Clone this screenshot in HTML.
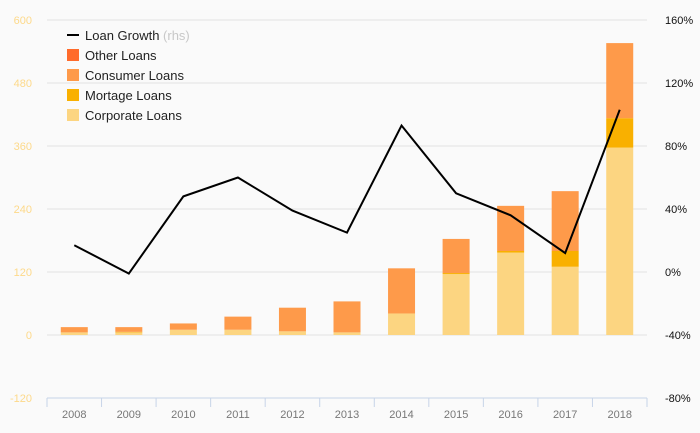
<!DOCTYPE html>
<html><head><meta charset="utf-8"><style>
html,body{margin:0;padding:0;background:#fafafa;}
svg{display:block;font-family:"Liberation Sans",sans-serif;}
</style></head><body>
<svg id="chart" width="700" height="433" viewBox="0 0 700 433">
<rect width="700" height="433" fill="#fafafa"/>
<g id="grid"></g><g id="bars"></g><g id="line"></g><g id="axes"></g>
<g id="legend" font-size="13" fill="#222">
  <line x1="67" y1="35" x2="79" y2="35" stroke="#000" stroke-width="2"/>
  <text x="85" y="40">Loan Growth <tspan fill="#c8c8c8">(rhs)</tspan></text>
  <rect x="67" y="49" width="12" height="12" fill="#ff6b2b"/>
  <text x="85" y="60">Other Loans</text>
  <rect x="67" y="69" width="12" height="12" fill="#fe9a4a"/>
  <text x="85" y="80">Consumer Loans</text>
  <rect x="67" y="89" width="12" height="12" fill="#f9b000"/>
  <text x="85" y="100">Mortage Loans</text>
  <rect x="67" y="109" width="12" height="12" fill="#fcd581"/>
  <text x="85" y="120">Corporate Loans</text>
</g>
</svg>
<script>
const years = ["2008","2009","2010","2011","2012","2013","2014","2015","2016","2017","2018"];
const corporate = [5,5,10,10,7,5,41,116,157,130,357];
const mortage = [0,1,0,0,0,0,0,2,3,30,56];
const consumer = [10,9,12,25,45,59,86,65,86,114,143];
const other = [0,0,0,0,0,0,0,0,0,0,0];
const growth = [17,-1,48,60,39,25,93,50,36,12,103];
const leftTicks = [-120,0,120,240,360,480,600];
const rightTicks = ["-80%","-40%","0%","40%","80%","120%","160%"];
const rightVals = [-80,-40,0,40,80,120,160];

const NS="http://www.w3.org/2000/svg";
const X0=47,X1=647,band=(X1-X0)/years.length,bw=27;
const yL=v=>335-v*0.525;
const yR=v=>272-v*63/40;
const xc=i=>X0+band*(i+0.5);
function mk(tag,attrs,parent){const e=document.createElementNS(NS,tag);for(const k in attrs)e.setAttribute(k,attrs[k]);parent.appendChild(e);return e;}
const grid=document.getElementById('grid'),bars=document.getElementById('bars'),line=document.getElementById('line'),axes=document.getElementById('axes');
leftTicks.forEach((v,i)=>{
  if(v>-120){const g=mk('line',{x1:X0,x2:X1,y1:yL(v),y2:yL(v),stroke:'#e3e3e3','stroke-width':1},grid);
  
  }
  const t=mk('text',{x:32,y:yL(v)+4,'text-anchor':'end','font-size':11,fill:'#fdd98a'},axes);
  t.textContent=v;
  
  
});
rightVals.forEach((v,i)=>{
  const t=mk('text',{x:665,y:yR(v)+4,'font-size':11,fill:'#111'},axes);
  t.textContent=rightTicks[i];
  
  
});
const ax=mk('line',{x1:X0,x2:X1,y1:398,y2:398,stroke:'#c7d4e8','stroke-width':1},axes);


for(let i=0;i<=years.length;i++){
  const tk=mk('line',{x1:X0+band*i,x2:X0+band*i,y1:398,y2:407,stroke:'#c7d4e8'},axes);
  
  
}
years.forEach((y,i)=>{
  const t=mk('text',{x:xc(i),y:418,'text-anchor':'middle','font-size':11,fill:'#777'},axes);
  t.textContent=y;
  
  
  const series=[[corporate,'#fcd581','corporate'],[mortage,'#f9b000','mortage'],[consumer,'#fe9a4a','consumer'],[other,'#ff6b2b','other']];
  let base=0;
  series.forEach(([arr,col,nm])=>{
    const v=arr[i];if(v<=0)return;
    const r=mk('rect',{x:xc(i)-bw/2,y:yL(base+v),width:bw,height:yL(base)-yL(base+v),fill:col},bars);
    
    
    base+=v;
  });
});
const p=mk('polyline',{points:growth.map((g,i)=>xc(i)+','+yR(g)).join(' '),fill:'none',stroke:'#000','stroke-width':2,'stroke-linejoin':'miter'},line);


</script>
</body></html>
